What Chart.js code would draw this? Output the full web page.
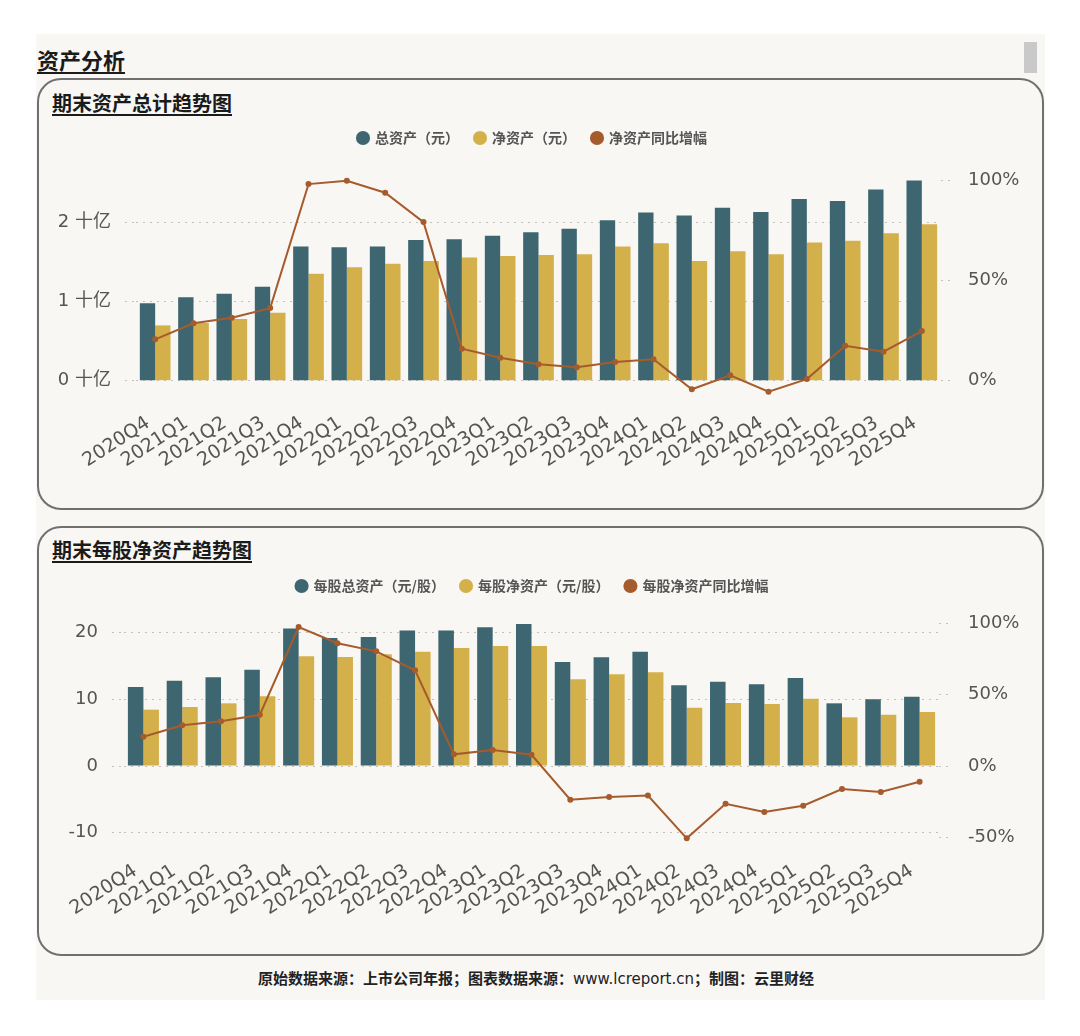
<!DOCTYPE html>
<html>
<head>
<meta charset="utf-8">
<script src="https://cdn.jsdelivr.net/npm/chart.js@4.4.1/dist/chart.umd.min.js"></script>
<style>
  html, body { margin: 0; padding: 0; background: #ffffff; }
  body { width: 1080px; height: 1036px; position: relative; overflow: hidden; font-family: 'Noto Sans CJK SC', sans-serif; }
  #panel { position: absolute; left: 36px; top: 34px; width: 1009px; height: 966px; background: #f9f7f4; }
  #scroll { position: absolute; left: 1024px; top: 42px; width: 13px; height: 31px; background: #c9c9c9; }
  .h1 { position: absolute; left: 37px; top: 46px; font-size: 22px; font-weight: bold; color: #1b1b1b; text-decoration: underline; text-decoration-thickness: 2px; text-underline-offset: 3px; line-height: 26px; }
  .card { position: absolute; left: 37px; width: 1007px; box-sizing: border-box; border: 2px solid #707070; border-radius: 24px; }
  .ct { position: absolute; left: 52px; font-size: 20px; font-weight: bold; color: #1b1b1b; text-decoration: underline; text-decoration-thickness: 2px; text-underline-offset: 3px; line-height: 24px; }
  canvas { position: absolute; left: 37px; }
  #foot { position: absolute; left: 36px; width: 1000px; top: 968px; text-align: center; font-size: 15px; font-weight: bold; color: #222; line-height: 20px; }
  #foot span { font-family: 'DejaVu Sans', sans-serif; font-weight: normal; }
</style>
</head>
<body>
<div id="panel"></div>
<div id="scroll"></div>
<div class="h1">资产分析</div>
<div class="card" style="top:78px;height:432px;"></div>
<div class="ct" style="top:91px;">期末资产总计趋势图</div>
<canvas id="c1" width="1007" height="391" style="top:112px;width:1007px;height:391px;"></canvas>
<div class="card" style="top:526px;height:430px;"></div>
<div class="ct" style="top:538px;">期末每股净资产趋势图</div>
<canvas id="c2" width="1007" height="390" style="top:560px;width:1007px;height:390px;"></canvas>
<div id="foot">原始数据来源：上市公司年报；图表数据来源：<span>www.lcreport.cn</span>；制图：云里财经</div>
<script>
// ---- data ----
const categories = ['2020Q4','2021Q1','2021Q2','2021Q3','2021Q4','2022Q1','2022Q2','2022Q3','2022Q4','2023Q1','2023Q2','2023Q3','2023Q4','2024Q1','2024Q2','2024Q3','2024Q4','2025Q1','2025Q2','2025Q3','2025Q4'];

// chart 1 (units: 十亿元, %)
const totalAssets = [0.98,1.055,1.10,1.19,1.70,1.69,1.70,1.78,1.79,1.835,1.88,1.925,2.03,2.13,2.09,2.19,2.135,2.30,2.275,2.42,2.535];
const netAssets = [0.70,0.73,0.78,0.86,1.355,1.435,1.48,1.515,1.56,1.58,1.59,1.60,1.70,1.74,1.515,1.64,1.60,1.75,1.77,1.865,1.98];
const netAssetsYoY = [20.7,28.7,31.5,36.3,98.3,100,94,79.3,16,11.5,8.2,6.7,9.3,10.7,-4.3,2.7,-5.5,0.8,17.5,14.5,24.8];
const names1 = ['总资产（元）','净资产（元）','净资产同比增幅'];
const leftTicks1 = [0,1,2];
const rightTicks1 = [0,50,100];

// chart 2 (units: 元/股, %)
const perShareTotal = [11.85,12.8,13.3,14.45,20.6,19.2,19.35,20.3,20.3,20.8,21.3,15.6,16.3,17.15,12.1,12.65,12.25,13.2,9.4,10.0,10.4];
const perShareNet = [8.45,8.85,9.4,10.45,16.45,16.35,16.75,17.15,17.7,18.0,18.0,13.0,13.75,14.05,8.75,9.45,9.3,10.1,7.3,7.7,8.1];
const perShareNetYoY = [20.6,28.6,31.4,36.0,97.6,86.2,80.5,67.2,8.2,11.2,7.9,-23.7,-21.8,-20.8,-50.8,-26.5,-32.3,-27.9,-16.2,-18.3,-11.0];
const names2 = ['每股总资产（元/股）','每股净资产（元/股）','每股净资产同比增幅'];
const leftTicks2 = [-10,0,10,20];
const rightTicks2 = [-50,0,50,100];

// ---- styles ----
const TEAL = '#3d6670';
const GOLD = '#d4b04b';
const RUST = '#a65b2c';
const TICKFONT = "'DejaVu Sans', 'Noto Sans CJK SC', sans-serif";
const CJK = "'Noto Sans CJK SC', sans-serif";
const GRID = '#c4c1bd';

function build(id, o) {
  return new Chart(document.getElementById(id), {
    data: {
      labels: categories,
      datasets: [
        { type: 'bar', label: o.names[0], data: o.bar1, backgroundColor: TEAL, borderWidth: 0, yAxisID: 'y', barPercentage: 1, categoryPercentage: 0.8 },
        { type: 'bar', label: o.names[1], data: o.bar2, backgroundColor: GOLD, borderWidth: 0, yAxisID: 'y', barPercentage: 1, categoryPercentage: 0.8 },
        { type: 'line', label: o.names[2], data: o.line, borderColor: RUST, backgroundColor: RUST, borderWidth: 2, pointRadius: 3, pointBackgroundColor: RUST, pointBorderWidth: 0, yAxisID: 'y1', order: -1, tension: 0 }
      ]
    },
    options: {
      responsive: false,
      animation: false,
      devicePixelRatio: 1,
      layout: { padding: { top: 3, right: 16, left: 0, bottom: 0 } },
      plugins: {
        legend: {
          labels: {
            usePointStyle: true, pointStyle: 'circle', boxWidth: 10, boxHeight: 10, padding: 16,
            color: '#555', font: { family: CJK, size: 14, weight: 'bold' },
            sort: (a, b) => a.datasetIndex - b.datasetIndex
          }
        },
        tooltip: { enabled: false }
      },
      scales: {
        x: {
          grid: { display: false }, border: { display: false },
          ticks: { color: '#555', font: { family: TICKFONT, size: 19 }, minRotation: 33, maxRotation: 33, autoSkip: false, padding: o.xPad, labelOffset: o.xOff },
          afterFit: s => { s.height = o.xH; }
        },
        y: {
          position: 'left', min: o.yMin, max: o.yMax,
          afterBuildTicks: s => { s.ticks = o.yTicks.map(v => ({ value: v })); },
          ticks: { callback: o.yFmt, color: '#555', font: { family: TICKFONT, size: 18 }, padding: 14 },
          grid: { color: GRID, lineWidth: 1, tickLength: o.yTL, tickColor: GRID, tickBorderDash: [2, 5] },
          border: { display: false, dash: [2, 5] },
          afterFit: s => { s.width = o.yW; }
        },
        y1: {
          position: 'right', min: o.rMin, max: o.rMax,
          afterBuildTicks: s => { s.ticks = o.rTicks.map(v => ({ value: v })); },
          ticks: { callback: v => v + '%', color: '#555', font: { family: TICKFONT, size: 18 }, padding: o.rPad },
          grid: { drawOnChartArea: false, color: GRID, tickLength: 14, tickColor: GRID, tickBorderDash: [2, 5] },
          border: { display: false, dash: [2, 5] },
          afterFit: s => { s.width = o.rW; }
        }
      }
    }
  });
}

build('c1', {
  names: names1, bar1: totalAssets, bar2: netAssets, line: netAssetsYoY,
  yMin: -0.219, yMax: 2.857, yTicks: leftTicks1, yFmt: v => v + ' 十亿',
  rMin: -8.65, rMax: 112.85, rTicks: rightTicks1,
  xPad: 6, xOff: -7, xH: 105, yW: 99, yTL: 11, rW: 87, rPad: 13
});

build('c2', {
  names: names2, bar1: perShareTotal, bar2: perShareNet, line: perShareNetYoY,
  yMin: -11.99, yMax: 24.44, yTicks: leftTicks2, yFmt: v => String(v),
  rMin: -56.18, rMax: 114.47, rTicks: rightTicks2,
  xPad: 6, xOff: -8, xH: 104, yW: 87, yTL: 12, rW: 89, rPad: 15
});
</script>
</body>
</html>
